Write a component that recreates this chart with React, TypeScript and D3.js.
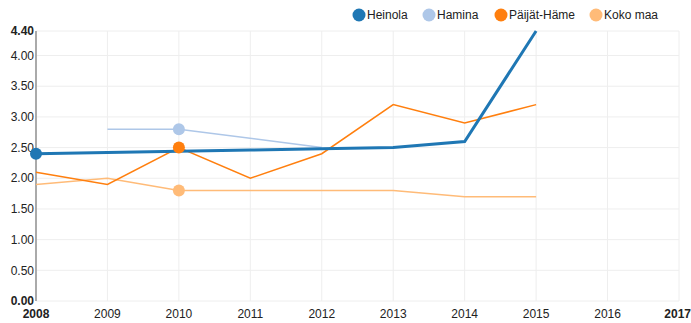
import React from "react";
import * as d3 from "d3";

const years = [2008, 2009, 2010, 2011, 2012, 2013, 2014, 2015];
const heinola = [2.4, 2.42, 2.44, 2.46, 2.48, 2.5, 2.6, 4.4];
const haminaYears = [2009, 2010, 2012];
const hamina = [2.8, 2.8, 2.5];
const paijatHame = [2.1, 1.9, 2.5, 2.0, 2.4, 3.2, 2.9, 3.2];
const kokoMaa = [1.9, 2.0, 1.8, 1.8, 1.8, 1.8, 1.7, 1.7];
const xTicks = [2008, 2009, 2010, 2011, 2012, 2013, 2014, 2015, 2016, 2017];
const yTicks = [0, 0.5, 1, 1.5, 2, 2.5, 3, 3.5, 4, 4.4];
const legendNames = ["Heinola", "Hamina", "Päijät-Häme", "Koko maa"];
const colors = ["#1f77b4", "#aec7e8", "#ff7f0e", "#ffbb78"];

export default function App() {
  const W = 691, H = 323;
  const x = d3.scaleLinear().domain([2008, 2017]).range([36, 679]);
  const y = d3.scaleLinear().domain([0, 4.4]).range([301, 31]);
  const line = d3.line<[number, number]>().x(d => x(d[0])).y(d => y(d[1]));
  const series = [
    { pts: years.map((yr, i) => [yr, heinola[i]] as [number, number]), c: colors[0], w: 3, dot: 2008 },
    { pts: haminaYears.map((yr, i) => [yr, hamina[i]] as [number, number]), c: colors[1], w: 1.5, dot: 2010 },
    { pts: years.map((yr, i) => [yr, paijatHame[i]] as [number, number]), c: colors[2], w: 1.5, dot: 2010 },
    { pts: years.map((yr, i) => [yr, kokoMaa[i]] as [number, number]), c: colors[3], w: 1.5, dot: 2010 },
  ];
  const legendX = [359, 429, 501, 596];
  const font = "Arial, 'Liberation Sans', sans-serif";
  const fmt = d3.format(".2f");
  return (
    <svg width={W} height={H} style={{ position: "absolute", left: 0, top: 0, background: "#fff" }} fontFamily={font}>
      {/* grid */}
      {yTicks.map(t => (
        <line key={"gy" + t} x1={x(2008)} x2={x(2017)} y1={y(t)} y2={y(t)} stroke="#eeeeee" strokeWidth={1} />
      ))}
      {xTicks.map(t => (
        <line key={"gx" + t} x1={x(t)} x2={x(t)} y1={y(4.4)} y2={y(0)} stroke="#eeeeee" strokeWidth={1} />
      ))}
      {/* y axis line */}
      <line x1={x(2008)} x2={x(2008)} y1={y(4.4)} y2={y(0)} stroke="#aaaaaa" strokeWidth={2} />
      {/* y labels */}
      {yTicks.map((t, i) => (
        <text key={"yl" + t} x={34} y={y(t)} dy="0.35em" textAnchor="end" fontSize={12}
          fontWeight={i === 0 || i === yTicks.length - 1 ? "bold" : "normal"} fill="#222">
          {fmt(t)}
        </text>
      ))}
      {/* x labels */}
      {xTicks.map((t, i) => (
        <text key={"xl" + t} x={x(t)} y={318} textAnchor={i === xTicks.length - 1 ? "end" : "middle"} fontSize={12}
          dx={i === xTicks.length - 1 ? 12 : 0}
          fontWeight={i === 0 || i === xTicks.length - 1 ? "bold" : "normal"} fill="#222">
          {t}
        </text>
      ))}
      {/* lines: draw thin first then Heinola on top */}
      {[1, 3, 2, 0].map(k => {
        const s = series[k];
        return <path key={"l" + k} d={line(s.pts) || ""} fill="none" stroke={s.c} strokeWidth={s.w} />;
      })}
      {[3, 1, 2, 0].map(k => {
        const s = series[k];
        const p = s.pts.find(d => d[0] === s.dot)!;
        return <circle key={"c" + k} cx={x(p[0])} cy={y(p[1])} r={6} fill={s.c} />;
      })}
      {/* legend */}
      {legendNames.map((n, i) => (
        <g key={"lg" + n}>
          <circle cx={legendX[i]} cy={15} r={6.5} fill={colors[i]} />
          <text x={legendX[i] + 8} y={15} dy="0.35em" fontSize={12} fill="#222">{n}</text>
        </g>
      ))}
    </svg>
  );
}
